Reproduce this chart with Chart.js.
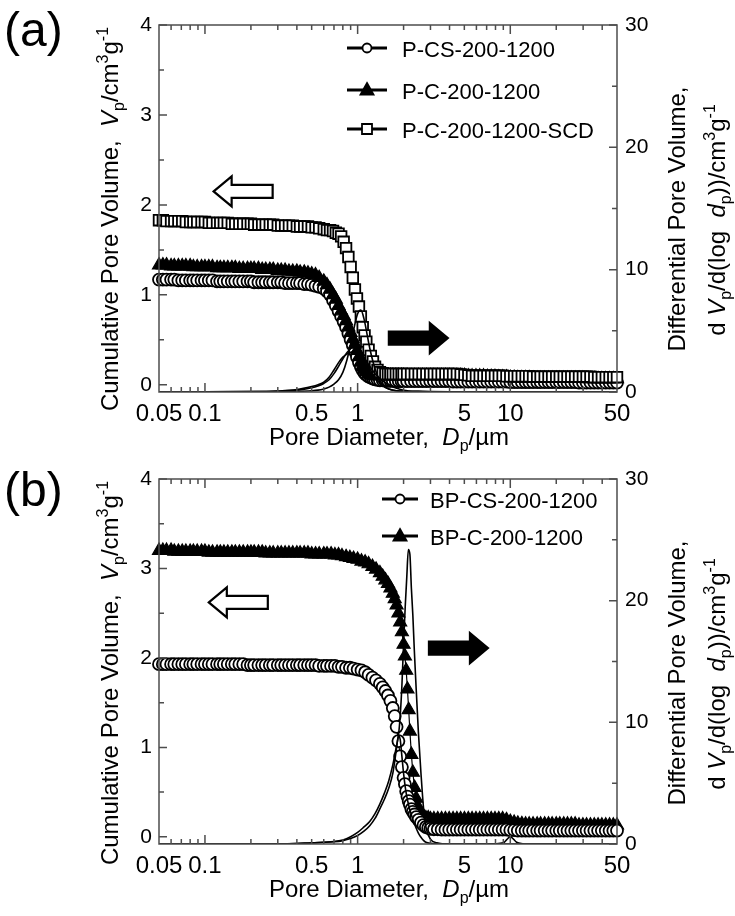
<!DOCTYPE html>
<html>
<head>
<meta charset="utf-8">
<script src="https://cdn.jsdelivr.net/npm/chart.js@4.4.1/dist/chart.umd.min.js"></script>
<style>
  html, body { margin: 0; padding: 0; background: #fff; }
  .panel { position: relative; width: 735px; height: 458px; }
  canvas { display: block; }
</style>
</head>
<body>
<div class="panel"><canvas id="chartA" width="735" height="458"></canvas></div>
<div class="panel"><canvas id="chartB" width="735" height="458"></canvas></div>
<script>
const FONT = '"Liberation Sans", Arial, Helvetica, sans-serif';
const AXIS = '#4d4d4d';

// axis ticks
const xTickLabels = [0.05, 0.1, 0.5, 1, 5, 10, 50];
const xTickMarks = [0.06, 0.07, 0.08, 0.09, 0.1, 0.2, 0.3, 0.4, 0.5, 0.6, 0.7, 0.8, 0.9, 1,
  2, 3, 4, 5, 6, 7, 8, 9, 10, 20, 30, 40];
const xMajorTicks = [0.1, 1, 10];
const leftLabels = [0, 1, 2, 3, 4];
const leftTickMarks = [0, 0.5, 1, 1.5, 2, 2.5, 3, 3.5, 4];
const rightLabels = [0, 10, 20, 30];
const rightTickMarks = [0, 5, 10, 15, 20, 25, 30];

// ---- panel (a): cumulative pore volume, cm3/g (left axis) ----
const diamA = [
  0.05, 0.053, 0.056, 0.06, 0.063, 0.067, 0.071, 0.075, 0.08, 0.084, 0.089, 0.095, 0.1, 0.106,
  0.112, 0.12, 0.126, 0.133, 0.141, 0.15, 0.158, 0.168, 0.178, 0.19, 0.2, 0.21, 0.224, 0.237,
  0.25, 0.266, 0.28, 0.3, 0.316, 0.335, 0.355, 0.376, 0.4, 0.42, 0.447, 0.473, 0.5, 0.53, 0.56, 0.6,
  0.63, 0.66, 0.69, 0.72, 0.75, 0.78, 0.81, 0.84, 0.87, 0.9, 0.93, 0.96, 0.99, 1.02, 1.05, 1.08,
  1.11, 1.14, 1.18, 1.22, 1.26, 1.3, 1.35, 1.4, 1.46, 1.52, 1.58, 1.64, 1.7, 1.78, 1.86, 1.94,
  2, 2.11, 2.24, 2.37, 2.51, 2.66, 2.82, 2.99, 3.16, 3.35, 3.55, 3.76, 3.98, 4.22, 4.47, 4.73,
  5.01, 5.31, 5.62, 5.96, 6.31, 6.68, 7.08, 7.5, 7.94, 8.41, 8.91, 9.44, 10, 10.6, 11.2, 11.9,
  12.6, 13.3, 14.1, 15, 15.8, 16.8, 17.8, 18.8, 20, 21.1, 22.4, 23.7, 25.1, 26.6, 28.2, 29.9,
  31.6, 33.5, 35.5, 37.6, 39.8, 42.2, 44.7, 47.3, 50];
const cumCS_A = [
  1.17, 1.17, 1.17, 1.17, 1.17, 1.16, 1.16, 1.16, 1.16, 1.16, 1.16, 1.16, 1.16, 1.16,
  1.16, 1.15, 1.15, 1.15, 1.15, 1.15, 1.15, 1.15, 1.15, 1.15, 1.15, 1.14, 1.14, 1.14,
  1.14, 1.14, 1.14, 1.14, 1.14, 1.13, 1.13, 1.13, 1.13, 1.13, 1.12, 1.12, 1.11, 1.10, 1.09, 1.07,
  1.04, 1.00, 0.94, 0.88, 0.82, 0.76, 0.70, 0.64, 0.57, 0.50, 0.44, 0.37, 0.31, 0.25, 0.20, 0.16,
  0.13, 0.11, 0.09, 0.08, 0.07, 0.06, 0.055, 0.05, 0.05, 0.05, 0.045, 0.045, 0.045, 0.04, 0.04, 0.04,
  0.04, 0.04, 0.04, 0.04, 0.04, 0.04, 0.04, 0.04, 0.04, 0.04, 0.04, 0.04, 0.04, 0.035, 0.035, 0.035,
  0.035, 0.035, 0.035, 0.035, 0.035, 0.035, 0.035, 0.035, 0.035, 0.035, 0.035, 0.035, 0.03, 0.03, 0.03, 0.03,
  0.03, 0.03, 0.03, 0.03, 0.03, 0.03, 0.03, 0.03, 0.03, 0.03, 0.03, 0.03, 0.03, 0.03, 0.025, 0.025,
  0.025, 0.025, 0.025, 0.025, 0.025, 0.025, 0.025, 0.025, 0.025];
const cumC_A = [
  1.33, 1.33, 1.33, 1.32, 1.32, 1.32, 1.32, 1.32, 1.32, 1.31, 1.31, 1.31, 1.31, 1.31,
  1.31, 1.30, 1.30, 1.30, 1.30, 1.30, 1.30, 1.29, 1.29, 1.29, 1.29, 1.29, 1.29, 1.28,
  1.28, 1.28, 1.28, 1.27, 1.27, 1.27, 1.26, 1.26, 1.26, 1.25, 1.25, 1.24, 1.23, 1.22, 1.19, 1.15,
  1.11, 1.06, 1.00, 0.95, 0.88, 0.82, 0.77, 0.71, 0.64, 0.58, 0.51, 0.45, 0.38, 0.31, 0.25, 0.20,
  0.17, 0.145, 0.125, 0.11, 0.105, 0.10, 0.10, 0.10, 0.10, 0.10, 0.10, 0.10, 0.10, 0.10, 0.10, 0.10,
  0.10, 0.10, 0.10, 0.10, 0.10, 0.10, 0.10, 0.10, 0.10, 0.10, 0.10, 0.10, 0.10, 0.10, 0.10, 0.10,
  0.10, 0.095, 0.095, 0.095, 0.095, 0.095, 0.09, 0.09, 0.09, 0.085, 0.085, 0.085, 0.08, 0.08, 0.075, 0.075,
  0.075, 0.075, 0.07, 0.07, 0.07, 0.07, 0.07, 0.07, 0.07, 0.07, 0.07, 0.07, 0.07, 0.07, 0.07, 0.07,
  0.065, 0.065, 0.065, 0.065, 0.065, 0.065, 0.065, 0.065, 0.065];
const cumSCD_A = [
  1.83, 1.83, 1.82, 1.82, 1.82, 1.82, 1.82, 1.81, 1.81, 1.81, 1.81, 1.81, 1.81, 1.80,
  1.80, 1.80, 1.80, 1.80, 1.80, 1.79, 1.79, 1.79, 1.79, 1.79, 1.79, 1.78, 1.78, 1.78,
  1.78, 1.78, 1.78, 1.77, 1.77, 1.77, 1.77, 1.77, 1.76, 1.76, 1.76, 1.76, 1.75, 1.75, 1.74, 1.73,
  1.72, 1.72, 1.71, 1.69, 1.68, 1.65, 1.59, 1.52, 1.42, 1.31, 1.19, 1.06, 0.96, 0.87, 0.76, 0.64,
  0.55, 0.48, 0.39, 0.32, 0.26, 0.20, 0.165, 0.14, 0.13, 0.12, 0.12, 0.12, 0.12, 0.12, 0.12, 0.12,
  0.12, 0.12, 0.12, 0.12, 0.12, 0.12, 0.12, 0.12, 0.12, 0.12, 0.12, 0.12, 0.12, 0.12, 0.12, 0.115,
  0.11, 0.105, 0.10, 0.10, 0.10, 0.10, 0.10, 0.10, 0.10, 0.10, 0.10, 0.095, 0.095, 0.095, 0.095, 0.095,
  0.095, 0.095, 0.09, 0.09, 0.09, 0.09, 0.09, 0.09, 0.09, 0.09, 0.09, 0.09, 0.09, 0.09, 0.09, 0.09,
  0.09, 0.09, 0.085, 0.085, 0.085, 0.085, 0.085, 0.085, 0.085];

// ---- panel (a): differential pore volume, cm3/g (right axis) ----
const diamDiffA = [0.05, 0.1, 0.2, 0.3, 0.4, 0.5, 0.55, 0.6, 0.65, 0.7, 0.75, 0.8, 0.85, 0.9, 0.95,
  1.0, 1.05, 1.1, 1.15, 1.2, 1.3, 1.4, 1.5, 1.6, 1.8, 2.0, 2.5, 3, 4, 4.5, 5, 6, 8, 10, 20, 30, 50];
const difCS_A = [0.02, 0.02, 0.03, 0.08, 0.2, 0.45, 0.6, 0.8, 1.2, 1.8, 2.4, 2.85, 3.1, 3.25, 3.3,
  3.2, 3.0, 2.75, 2.45, 2.1, 1.5, 1.1, 0.8, 0.6, 0.3, 0.15, 0.05, 0.03, 0.02, 0.02, 0.02, 0.02,
  0.02, 0.02, 0.01, 0.01, 0.01];
const difC_A = [0.02, 0.02, 0.03, 0.06, 0.15, 0.35, 0.5, 0.7, 1.0, 1.5, 2.1, 2.7, 3.2, 3.55, 3.7,
  3.6, 3.3, 2.9, 2.4, 1.9, 1.2, 0.7, 0.4, 0.25, 0.1, 0.05, 0.03, 0.02, 0.02, 0.02, 0.02, 0.02,
  0.02, 0.02, 0.01, 0.01, 0.01];
const difSCD_A = [0.02, 0.02, 0.02, 0.03, 0.05, 0.1, 0.15, 0.25, 0.4, 0.65, 1.0, 1.6, 2.6, 3.9, 5.3,
  6.4, 6.7, 6.0, 4.8, 3.6, 1.9, 0.9, 0.45, 0.25, 0.1, 0.05, 0.03, 0.02, 0.02, 0.02, 0.02, 0.02,
  0.02, 0.02, 0.01, 0.01, 0.01];

// ---- panel (b): cumulative pore volume, cm3/g (left axis) ----
const diamB = [
  0.05, 0.053, 0.056, 0.06, 0.063, 0.067, 0.071, 0.075, 0.08, 0.084, 0.089, 0.095, 0.1, 0.106,
  0.112, 0.12, 0.126, 0.133, 0.141, 0.15, 0.158, 0.168, 0.178, 0.19, 0.2, 0.21, 0.224, 0.237,
  0.25, 0.266, 0.28, 0.3, 0.316, 0.335, 0.355, 0.376, 0.4, 0.42, 0.447, 0.473, 0.5, 0.53, 0.56, 0.6,
  0.63, 0.67, 0.71, 0.75, 0.79, 0.84, 0.89, 0.94, 1.0,
  1.06, 1.12, 1.18, 1.25, 1.32, 1.4, 1.46, 1.52, 1.58, 1.64, 1.7, 1.75, 1.8, 1.85, 1.9, 1.95,
  2.0, 2.04, 2.08, 2.12, 2.16, 2.2, 2.25, 2.3, 2.36, 2.42, 2.5, 2.6, 2.7, 2.8, 2.9, 3.0,
  3.16, 3.35, 3.55, 3.76, 3.98, 4.22, 4.47, 4.73, 5.01, 5.31, 5.62, 5.96, 6.31, 6.68, 7.08, 7.5,
  7.94, 8.41, 8.91, 9.44, 10, 10.6, 11.2, 11.9, 12.6, 13.3, 14.1, 15, 15.8, 16.8, 17.8, 18.8,
  20, 21.1, 22.4, 23.7, 25.1, 26.6, 28.2, 29.9, 31.6, 33.5, 35.5, 37.6, 39.8, 42.2, 44.7, 47.3, 50];
const cumCS_B = [
  1.93, 1.93, 1.93, 1.93, 1.93, 1.93, 1.93, 1.93, 1.93, 1.93, 1.93, 1.93, 1.93, 1.93,
  1.93, 1.93, 1.93, 1.93, 1.93, 1.93, 1.93, 1.93, 1.93, 1.92, 1.92, 1.92, 1.92, 1.92,
  1.92, 1.92, 1.92, 1.92, 1.92, 1.92, 1.92, 1.92, 1.92, 1.92, 1.92, 1.92, 1.92, 1.92, 1.91, 1.91,
  1.91, 1.91, 1.91, 1.90, 1.90, 1.89, 1.89, 1.88, 1.87,
  1.86, 1.84, 1.81, 1.78, 1.75, 1.71, 1.67, 1.63, 1.58, 1.52, 1.44, 1.35, 1.23, 1.07, 0.90, 0.78,
  0.66, 0.59, 0.51, 0.45, 0.40, 0.36, 0.31, 0.28, 0.25, 0.22, 0.19, 0.16, 0.13, 0.11, 0.10, 0.09,
  0.085, 0.085, 0.08, 0.08, 0.08, 0.08, 0.08, 0.08, 0.08, 0.08, 0.08, 0.08, 0.08, 0.08, 0.08, 0.08,
  0.08, 0.08, 0.08, 0.08, 0.075, 0.075, 0.07, 0.07, 0.07, 0.07, 0.07, 0.07, 0.07, 0.07, 0.07, 0.07,
  0.07, 0.07, 0.07, 0.07, 0.07, 0.07, 0.07, 0.07, 0.07, 0.07, 0.07, 0.07, 0.07, 0.07, 0.07, 0.07, 0.07];
const cumC_B = [
  3.20, 3.20, 3.20, 3.20, 3.19, 3.19, 3.19, 3.19, 3.19, 3.19, 3.19, 3.19, 3.19, 3.18,
  3.18, 3.18, 3.18, 3.18, 3.18, 3.18, 3.18, 3.18, 3.18, 3.18, 3.18, 3.18, 3.18, 3.18,
  3.17, 3.17, 3.17, 3.17, 3.17, 3.17, 3.17, 3.17, 3.17, 3.17, 3.17, 3.17, 3.16, 3.16, 3.16, 3.16,
  3.16, 3.16, 3.15, 3.15, 3.14, 3.13, 3.12, 3.11, 3.10,
  3.08, 3.07, 3.05, 3.02, 2.99, 2.95, 2.91, 2.87, 2.83, 2.78, 2.72, 2.66, 2.59, 2.50, 2.40, 2.29,
  2.15, 2.02, 1.86, 1.65, 1.42, 1.18, 0.92, 0.72, 0.55, 0.43, 0.33, 0.26, 0.23, 0.21, 0.21, 0.20,
  0.20, 0.20, 0.20, 0.20, 0.20, 0.20, 0.20, 0.20, 0.20, 0.20, 0.20, 0.20, 0.20, 0.20, 0.20, 0.20,
  0.20, 0.20, 0.20, 0.19, 0.17, 0.16, 0.15, 0.145, 0.14, 0.14, 0.14, 0.14, 0.14, 0.14, 0.14, 0.14,
  0.14, 0.14, 0.14, 0.14, 0.14, 0.14, 0.13, 0.13, 0.13, 0.13, 0.13, 0.13, 0.13, 0.13, 0.13, 0.13, 0.13];

// ---- panel (b): differential pore volume, cm3/g (right axis) ----
const diamDiffB = [0.05, 0.1, 0.2, 0.3, 0.5, 0.7, 0.8, 0.9, 1.0, 1.1, 1.2, 1.3, 1.4, 1.5, 1.6, 1.7,
  1.75, 1.8, 1.85, 1.9, 1.95, 2.0, 2.05, 2.1, 2.15, 2.2, 2.25, 2.3, 2.35, 2.4, 2.5, 2.6, 2.7, 2.8,
  3.0, 3.3, 4, 5, 7, 9, 10, 11, 13, 20, 30, 50];
const difCS_B = [0, 0, 0, 0.01, 0.08, 0.18, 0.28, 0.45, 0.7, 1.05, 1.5, 2.1, 2.9, 3.7, 4.6, 5.8,
  6.8, 7.9, 8.9, 8.6, 7.2, 5.8, 4.7, 3.9, 3.3, 2.8, 2.4, 2.0, 1.7, 1.4, 0.9, 0.55, 0.3, 0.15,
  0.05, 0.02, 0, 0, 0, 0, 0, 0, 0, 0, 0, 0];
const difC_B = [0, 0, 0, 0, 0.1, 0.2, 0.33, 0.6, 0.95, 1.4, 1.85, 2.5, 3.3, 4.2, 5.2, 6.5,
  7.3, 8.1, 8.9, 10.5, 13.0, 16.5, 19.5, 22.0, 24.2, 23.8, 21.0, 18.8, 16.0, 13.6, 9.2, 5.8, 3.0, 1.4,
  0.4, 0.1, 0, 0, 0, 0.1, 0.6, 0.15, 0, 0, 0, 0];

Chart.defaults.font.family = FONT;
Chart.defaults.color = '#000';

function pairs(xs, ys) {
  return xs.map((x, i) => ({ x: x, y: ys[i] }));
}

function cumSet(label, xs, ys, style, filled, radius, order) {
  return {
    label: label, data: pairs(xs, ys), yAxisID: 'y', order: order, clip: false,
    borderColor: '#000', borderWidth: 1.2, tension: 0,
    pointStyle: style, pointRadius: radius, pointBorderWidth: filled ? 1.2 : 1.8,
    pointBorderColor: '#000', pointBackgroundColor: filled ? '#000' : '#fff',
    inLegend: true, markerStyle: style, markerFilled: filled
  };
}

function difSet(xs, ys) {
  return {
    data: pairs(xs, ys), yAxisID: 'y2', order: 0,
    borderColor: '#000', borderWidth: 1.6, pointRadius: 0,
    cubicInterpolationMode: 'monotone'
  };
}

// rich text: [text, 'n' | 'i' | 'sub' | 'sup']
function layoutRich(ctx, parts, size) {
  return parts.map(([t, st]) => {
    const small = st === 'sub' || st === 'sup';
    const sz = small ? Math.round(size * 0.68) : size;
    const font = (st === 'i' ? 'italic ' : '') + sz + 'px ' + FONT;
    ctx.font = font;
    const dy = st === 'sub' ? size * 0.24 : st === 'sup' ? -size * 0.42 : 0;
    return { t: t, font: font, dy: dy, w: ctx.measureText(t).width };
  });
}

function drawRich(ctx, parts, cx, baseY, size) {
  const items = layoutRich(ctx, parts, size);
  const total = items.reduce((s, it) => s + it.w, 0);
  let x = cx - total / 2;
  ctx.textAlign = 'left';
  ctx.textBaseline = 'alphabetic';
  items.forEach(it => {
    ctx.font = it.font;
    ctx.fillText(it.t, x, baseY + it.dy);
    x += it.w;
  });
}

function drawArrow(ctx, tipX, y, dir, filled) {
  const len = 59, headLen = 18, headH = 15, bodyH = 6.5;
  const hx = tipX - dir * headLen, tx = tipX - dir * len;
  ctx.beginPath();
  ctx.moveTo(tipX, y);
  ctx.lineTo(hx, y - headH);
  ctx.lineTo(hx, y - bodyH);
  ctx.lineTo(tx, y - bodyH);
  ctx.lineTo(tx, y + bodyH);
  ctx.lineTo(hx, y + bodyH);
  ctx.lineTo(hx, y + headH);
  ctx.closePath();
  ctx.fillStyle = filled ? '#000' : '#fff';
  ctx.fill();
  ctx.lineWidth = 2.2;
  ctx.strokeStyle = '#000';
  ctx.stroke();
}

function drawMarker(ctx, style, filled, x, y) {
  ctx.beginPath();
  if (style === 'circle') {
    ctx.arc(x, y, 4.5, 0, Math.PI * 2);
  } else if (style === 'triangle') {
    ctx.moveTo(x, y - 7);
    ctx.lineTo(x + 6.5, y + 4.5);
    ctx.lineTo(x - 6.5, y + 4.5);
    ctx.closePath();
  } else {
    ctx.rect(x - 5, y - 5, 10, 10);
  }
  ctx.fillStyle = filled ? '#000' : '#fff';
  ctx.fill();
  ctx.lineWidth = 1.8;
  ctx.strokeStyle = '#000';
  ctx.stroke();
}

const yTitle = [['Cumulative Pore Volume,  ', 'n'], ['V', 'i'], ['p', 'sub'], ['/cm', 'n'],
  ['3', 'sup'], ['g', 'n'], ['-1', 'sup']];
const y2Title1 = [['Differential Pore Volume,', 'n']];
const y2Title2 = [['d ', 'n'], ['V', 'i'], ['p', 'sub'], ['/d(log  ', 'n'], ['d', 'i'], ['p', 'sub'],
  ['))/cm', 'n'], ['3', 'sup'], ['g', 'n'], ['-1', 'sup']];
const xTitle = [['Pore Diameter,  ', 'n'], ['D', 'i'], ['p', 'sub'], ['/\u00b5m', 'n']];

const decorPlugin = {
  id: 'decor',
  afterDraw(chart, args, o) {
    const ctx = chart.ctx;
    const { left, right, top, bottom } = chart.chartArea;
    const xs = chart.scales.x, yl = chart.scales.y, yr = chart.scales.y2;
    ctx.save();

    // frame and inward ticks
    ctx.strokeStyle = AXIS;
    ctx.lineWidth = 1.5;
    ctx.strokeRect(left, top, right - left, bottom - top);
    ctx.beginPath();
    xTickMarks.forEach(v => {
      const px = xs.getPixelForValue(v);
      const len = xMajorTicks.includes(v) ? 9 : 5;
      ctx.moveTo(px, bottom); ctx.lineTo(px, bottom - len);
      ctx.moveTo(px, top); ctx.lineTo(px, top + len);
    });
    leftTickMarks.forEach(v => {
      const py = yl.getPixelForValue(v);
      ctx.moveTo(left, py); ctx.lineTo(left + (leftLabels.includes(v) ? 8 : 5), py);
    });
    rightTickMarks.forEach(v => {
      const py = yr.getPixelForValue(v);
      ctx.moveTo(right, py); ctx.lineTo(right - (rightLabels.includes(v) ? 8 : 5), py);
    });
    ctx.stroke();

    ctx.fillStyle = '#000';
    // panel label
    ctx.font = '48px ' + FONT;
    ctx.textAlign = 'left';
    ctx.textBaseline = 'alphabetic';
    ctx.fillText(o.label, 4, o.labelY);

    // axis titles
    drawRich(ctx, xTitle, 389, bottom + 53, 24);
    ctx.save();
    ctx.translate(109, top + 194);
    ctx.rotate(-Math.PI / 2);
    drawRich(ctx, yTitle, 0, 9, 24);
    ctx.restore();
    ctx.save();
    ctx.translate(676, top + 194);
    ctx.rotate(-Math.PI / 2);
    drawRich(ctx, y2Title1, 0, 9, 24);
    ctx.restore();
    ctx.save();
    ctx.translate(716, top + 195);
    ctx.rotate(-Math.PI / 2);
    drawRich(ctx, y2Title2, 0, 9, 24);
    ctx.restore();

    // legend
    const lg = o.legend;
    let row = 0;
    chart.data.datasets.forEach(ds => {
      if (!ds.inLegend) return;
      const y = top + lg.rows[row++];
      ctx.beginPath();
      ctx.moveTo(lg.x0, y); ctx.lineTo(lg.x1, y);
      ctx.lineWidth = 3; ctx.strokeStyle = '#000';
      ctx.stroke();
      drawMarker(ctx, ds.markerStyle, ds.markerFilled, (lg.x0 + lg.x1) / 2, y);
      ctx.fillStyle = '#000';
      ctx.font = '22px ' + FONT;
      ctx.textAlign = 'left';
      ctx.textBaseline = 'middle';
      ctx.fillText(ds.label, lg.tx, y + 3);
    });

    // direction arrows
    o.arrows.forEach(a => {
      drawArrow(ctx, xs.getPixelForValue(a.x), yl.getPixelForValue(a.y), a.dir, a.filled);
    });
    ctx.restore();
  }
};

function makeChart(id, p) {
  return new Chart(document.getElementById(id), {
    type: 'line',
    data: { datasets: p.datasets },
    options: {
      responsive: false,
      animation: false,
      devicePixelRatio: 1,
      events: [],
      layout: { padding: { top: p.top, left: 0, right: 0, bottom: 0 } },
      plugins: {
        legend: { display: false },
        tooltip: { enabled: false },
        decor: p.decor
      },
      scales: {
        x: {
          type: 'logarithmic', min: 0.05, max: 50,
          grid: { display: false, drawTicks: false },
          border: { display: false },
          afterBuildTicks: s => { s.ticks = xTickLabels.map(v => ({ value: v })); },
          afterFit: s => { s.height = p.bottomSpace; },
          ticks: {
            autoSkip: false, maxRotation: 0, minRotation: 0, padding: 8,
            font: { size: 24 }, color: '#000',
            callback: v => String(v)
          }
        },
        y: {
          position: 'left', min: -0.08, max: 4,
          grid: { display: false, drawTicks: false },
          border: { display: false },
          afterBuildTicks: s => { s.ticks = leftLabels.map(v => ({ value: v })); },
          afterFit: s => { s.width = 159; },
          ticks: { padding: 7, font: { size: 21 }, color: '#000' }
        },
        y2: {
          position: 'right', min: 0, max: 30,
          grid: { display: false, drawTicks: false },
          border: { display: false },
          afterBuildTicks: s => { s.ticks = rightLabels.map(v => ({ value: v })); },
          afterFit: s => { s.width = 118; },
          ticks: { padding: 8, font: { size: 21 }, color: '#000' }
        }
      }
    },
    plugins: [decorPlugin]
  });
}

makeChart('chartA', {
  top: 25,
  bottomSpace: 66,
  datasets: [
    cumSet('P-CS-200-1200', diamA, cumCS_A, 'circle', false, 6, 3),
    cumSet('P-C-200-1200', diamA, cumC_A, 'triangle', true, 7.5, 2),
    cumSet('P-C-200-1200-SCD', diamA, cumSCD_A, 'rect', false, 7.5, 1),
    difSet(diamDiffA, difCS_A),
    difSet(diamDiffA, difC_A),
    difSet(diamDiffA, difSCD_A)
  ],
  decor: {
    label: '(a)', labelY: 46,
    legend: { x0: 347, x1: 387, tx: 402, rows: [23, 65, 104] },
    arrows: [
      { x: 0.114, y: 2.15, dir: -1, filled: false },
      { x: 3.9, y: 0.52, dir: 1, filled: true }
    ]
  }
});

makeChart('chartB', {
  top: 21,
  bottomSpace: 72,
  datasets: [
    cumSet('BP-CS-200-1200', diamB, cumCS_B, 'circle', false, 6, 1),
    cumSet('BP-C-200-1200', diamB, cumC_B, 'triangle', true, 7.5, 2),
    difSet(diamDiffB, difCS_B),
    difSet(diamDiffB, difC_B)
  ],
  decor: {
    label: '(b)', labelY: 48,
    legend: { x0: 382, x1: 418, tx: 430, rows: [20, 57] },
    arrows: [
      { x: 0.106, y: 2.62, dir: -1, filled: false },
      { x: 7.14, y: 2.11, dir: 1, filled: true }
    ]
  }
});
</script>
</body>
</html>
